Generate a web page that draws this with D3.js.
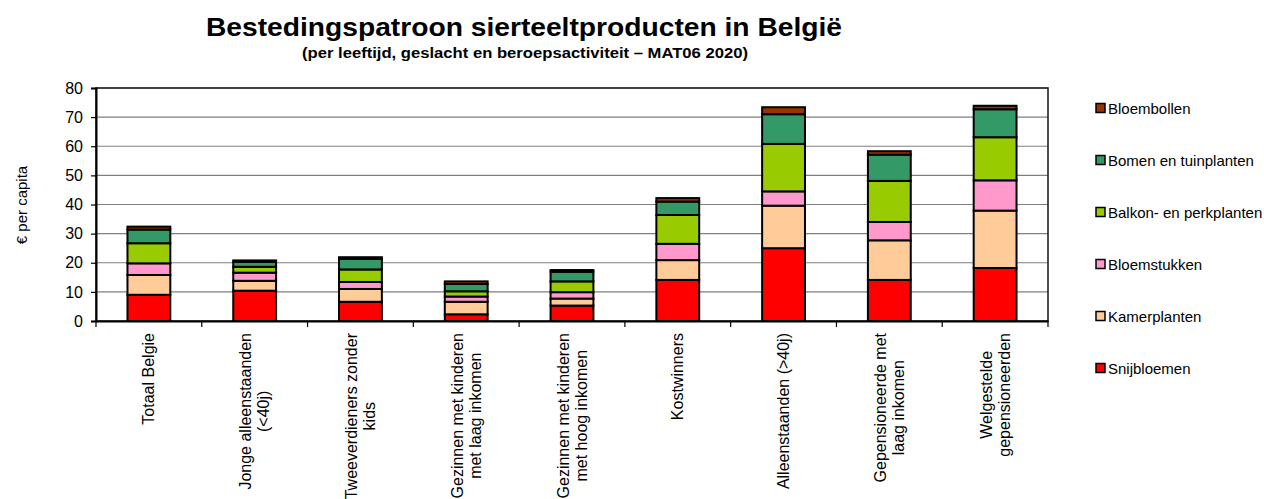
<!DOCTYPE html>
<html>
<head>
<meta charset="utf-8">
<script src="https://cdn.jsdelivr.net/npm/d3@7"></script>
<style>
  html, body { margin: 0; padding: 0; background: #fff; }
  svg { display: block; font-family: Arial, "Liberation Sans", sans-serif; }
</style>
</head>
<body>
<svg id="chart" width="1264" height="499"></svg>
<script>
// ---- Data ----
const categories = [
  "Totaal Belgie",
  "Jonge alleenstaanden (<40j)",
  "Tweeverdieners zonder kids",
  "Gezinnen met kinderen met laag inkomen",
  "Gezinnen met kinderen met hoog inkomen",
  "Kostwinners",
  "Alleenstaanden (>40j)",
  "Gepensioneerde met laag inkomen",
  "Welgestelde gepensioneerden"
];
const categoryLines = [
  ["Totaal Belgie"],
  ["Jonge alleenstaanden", "(<40j)"],
  ["Tweeverdieners zonder", "kids"],
  ["Gezinnen met kinderen", "met laag inkomen"],
  ["Gezinnen met kinderen", "met hoog inkomen"],
  ["Kostwinners"],
  ["Alleenstaanden (>40j)"],
  ["Gepensioneerde met", "laag inkomen"],
  ["Welgestelde", "gepensioneerden"]
];
const seriesNames = ["Snijbloemen", "Kamerplanten", "Bloemstukken", "Balkon- en perkplanten", "Bomen en tuinplanten", "Bloembollen"];
const snijbloemen   = [9.0, 10.4, 6.6, 2.3, 5.3, 14.1, 25.0, 14.1, 18.2];
const kamerplanten  = [6.8, 3.4, 4.4, 4.3, 2.4, 6.8, 14.6, 13.6, 19.7];
const bloemstukken  = [4.0, 2.8, 2.4, 1.8, 2.2, 5.6, 4.9, 6.3, 10.4];
const balkonplanten = [6.9, 2.0, 4.3, 1.8, 3.7, 9.9, 16.3, 14.1, 14.8];
const bomenplanten  = [4.7, 1.7, 3.6, 2.5, 3.3, 4.6, 10.2, 9.0, 9.6];
const bloembollen   = [1.0, 0.5, 0.6, 0.9, 0.6, 1.2, 2.4, 1.2, 1.2];
const yTicks = [0, 10, 20, 30, 40, 50, 60, 70, 80];
const seriesColors = ["#FF0000", "#FFCC99", "#FF99CC", "#99CC00", "#339966", "#993300"];

const seriesValues = [snijbloemen, kamerplanten, bloemstukken, balkonplanten, bomenplanten, bloembollen];
const table = categories.map((c, i) => {
  const row = { category: c };
  seriesNames.forEach((s, j) => row[s] = seriesValues[j][i]);
  return row;
});

// ---- Layout ----
const svg = d3.select("#chart");
const plot = { left: 96, right: 1048, top: 88, bottom: 321 };

const x = d3.scaleBand().domain(categories).range([plot.left, plot.right]).padding(0);
const y = d3.scaleLinear().domain([0, 80]).range([plot.bottom, plot.top]);
const color = d3.scaleOrdinal().domain(seriesNames).range(seriesColors);

// Title
svg.append("text")
  .attr("x", 524).attr("y", 36)
  .attr("text-anchor", "middle")
  .attr("font-size", 25).attr("font-weight", "bold")
  .attr("textLength", 636).attr("lengthAdjust", "spacingAndGlyphs")
  .text("Bestedingspatroon sierteeltproducten in België");
svg.append("text")
  .attr("x", 525).attr("y", 58)
  .attr("text-anchor", "middle")
  .attr("font-size", 14.5).attr("font-weight", "bold")
  .attr("textLength", 446).attr("lengthAdjust", "spacingAndGlyphs")
  .text("(per leeftijd, geslacht en beroepsactiviteit – MAT06 2020)");

// Gridlines
svg.append("g")
  .selectAll("line")
  .data(yTicks.filter(t => t > 0))
  .join("line")
  .attr("x1", plot.left).attr("x2", plot.right)
  .attr("y1", d => y(d)).attr("y2", d => y(d))
  .attr("stroke", "#7f7f7f").attr("stroke-width", 1.2);

// Plot border (top/right)
svg.append("rect")
  .attr("x", plot.left).attr("y", plot.top)
  .attr("width", plot.right - plot.left).attr("height", plot.bottom - plot.top)
  .attr("fill", "none").attr("stroke", "#222").attr("stroke-width", 1.6);

// Bars
const stack = d3.stack().keys(seriesNames);
const stacked = stack(table);
const barW = x.bandwidth() * 0.405;

svg.append("g")
  .selectAll("g")
  .data(stacked)
  .join("g")
  .attr("fill", d => color(d.key))
  .selectAll("rect")
  .data(d => d)
  .join("rect")
  .attr("x", d => x(d.data.category) + x.bandwidth() / 2 - barW / 2)
  .attr("y", d => y(d[1]))
  .attr("width", barW)
  .attr("height", d => y(d[0]) - y(d[1]))
  .attr("stroke", "#000").attr("stroke-width", 2);

// Y axis
const yAxis = svg.append("g")
  .attr("transform", `translate(${plot.left},0)`)
  .call(d3.axisLeft(y).tickValues(yTicks).tickSize(5).tickPadding(8));
yAxis.select(".domain").attr("stroke", "#000").attr("stroke-width", 2);
yAxis.selectAll(".tick line").attr("stroke", "#000").attr("stroke-width", 1.2);
yAxis.selectAll(".tick text").attr("font-size", 16).attr("fill", "#000")
  .attr("font-family", "Arial, 'Liberation Sans', sans-serif");

// X axis
const xAxis = svg.append("g")
  .attr("transform", `translate(0,${plot.bottom})`)
  .call(d3.axisBottom(x).tickSize(0).tickFormat(""));
xAxis.select(".domain").attr("stroke", "#000").attr("stroke-width", 2);
// Category separators ticks
svg.append("g")
  .selectAll("line")
  .data(categories.concat(["__end"]))
  .join("line")
  .attr("x1", (d, i) => plot.left + i * x.bandwidth())
  .attr("x2", (d, i) => plot.left + i * x.bandwidth())
  .attr("y1", plot.bottom).attr("y2", plot.bottom + 6)
  .attr("stroke", "#000").attr("stroke-width", 1.2);

// X labels (rotated, multi-line centered)
const labelTop = 333;
categories.forEach((c, i) => {
  const cx = x(c) + x.bandwidth() / 2;
  const lines = categoryLines[i];
  const g = svg.append("g").attr("transform", `translate(${cx},${labelTop}) rotate(-90)`);
  const texts = lines.map((ln, k) => g.append("text")
    .attr("font-size", 16).attr("text-anchor", "middle")
    .attr("y", (k - (lines.length - 1) / 2) * 18 + 5.6)
    .text(ln));
  const maxW = d3.max(texts, t => t.node().getComputedTextLength());
  texts.forEach(t => t.attr("x", -maxW / 2));
});

// Y axis title
svg.append("text")
  .attr("transform", "translate(27,205) rotate(-90)")
  .attr("text-anchor", "middle")
  .attr("font-size", 15)
  .text("€ per capita");

// Legend (reverse order, top = Bloembollen)
const legendOrder = seriesNames.slice().reverse();
const legend = svg.append("g");
legendOrder.forEach((s, i) => {
  const cy = 108 + i * 52;
  legend.append("rect")
    .attr("x", 1096).attr("y", cy - 4.5)
    .attr("width", 9).attr("height", 9)
    .attr("fill", color(s)).attr("stroke", "#000").attr("stroke-width", 1.5);
  legend.append("text")
    .attr("x", 1108).attr("y", cy + 5.5)
    .attr("font-size", 15)
    .text(s);
});
</script>
</body>
</html>
